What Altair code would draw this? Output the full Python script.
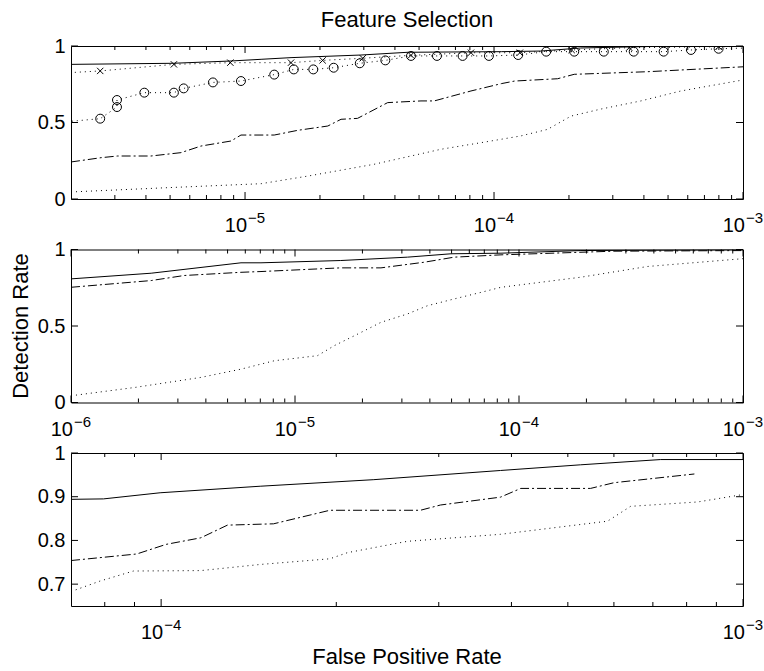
import altair as alt
import pandas as pd

FONT = "Liberation Sans"
TITLE = "Feature Selection"
X_TITLE = "False Positive Rate"
Y_TITLE = "Detection Rate"

# ---------------- panel 1 ----------------
p1_xdomain = [2e-6, 1e-3]
p1_ydomain = [0, 1]
p1_yticks = [0, 0.5, 1]
p1_major = [1e-5, 1e-4, 1e-3]
p1_major_exp = ["\u22125", "\u22124", "\u22123"]
p1_minor = [3e-6, 4e-6, 5e-6, 6e-6, 7e-6, 8e-6, 9e-6,
            2e-5, 3e-5, 4e-5, 5e-5, 6e-5, 7e-5, 8e-5, 9e-5,
            2e-4, 3e-4, 4e-4, 5e-4, 6e-4, 7e-4, 8e-4, 9e-4]

p1_solid_x = [2.0e-6, 5.13e-6, 8.78e-6, 1.16e-5, 1.53e-5, 2.92e-5, 4.51e-5, 1.07e-4, 1.54e-4, 2.23e-4, 4.27e-4, 1.0e-3]
p1_solid_y = [0.880, 0.887, 0.902, 0.913, 0.924, 0.941, 0.959, 0.963, 0.967, 0.987, 0.997, 1.0]

p1_cross_x = [1.5e-6, 2.62e-6, 5.18e-6, 8.73e-6, 1.53e-5, 2.05e-5, 2.97e-5, 4.64e-5, 8.08e-5, 1.27e-4, 2.05e-4, 3.49e-4, 7.98e-4, 1.2e-3]
p1_cross_y = [0.815, 0.837, 0.880, 0.891, 0.891, 0.906, 0.920, 0.939, 0.956, 0.956, 0.974, 0.989, 0.995, 1.0]

p1_circle_x = [1.6e-6, 2.62e-6, 3.06e-6, 3.06e-6, 3.94e-6, 5.18e-6, 5.67e-6, 7.43e-6, 9.63e-6, 1.31e-5,
               1.57e-5, 1.88e-5, 2.27e-5, 2.89e-5, 3.66e-5, 4.64e-5, 5.90e-5, 7.48e-5, 9.54e-5, 1.25e-4,
               1.62e-4, 2.10e-4, 2.76e-4, 3.64e-4, 4.80e-4, 6.18e-4, 7.98e-4, 1.2e-3]
p1_circle_y = [0.494, 0.525, 0.601, 0.647, 0.695, 0.695, 0.723, 0.762, 0.771, 0.813,
               0.847, 0.847, 0.858, 0.887, 0.906, 0.935, 0.935, 0.935, 0.935, 0.941,
               0.963, 0.963, 0.963, 0.963, 0.963, 0.974, 0.982, 0.990]

p1_dashdot_x = [2.0e-6, 2.64e-6, 3.08e-6, 4.19e-6, 5.53e-6, 6.65e-6, 8.78e-6, 9.63e-6, 1.31e-5, 1.63e-5,
                2.15e-5, 2.43e-5, 2.83e-5, 3.74e-5, 5.09e-5, 5.75e-5, 8.08e-5, 1.07e-4, 1.21e-4, 1.80e-4,
                2.10e-4, 4.14e-4, 1.0e-3]
p1_dashdot_y = [0.242, 0.270, 0.281, 0.281, 0.303, 0.346, 0.379, 0.418, 0.418, 0.449,
                0.477, 0.521, 0.527, 0.630, 0.641, 0.641, 0.706, 0.754, 0.771, 0.786,
                0.815, 0.832, 0.864]

p1_dotted_x = [2.0e-6, 4.89e-6, 1.16e-5, 1.79e-5, 3.30e-5, 6.12e-5, 8.86e-5, 1.28e-4, 1.64e-4, 2.04e-4,
               2.69e-4, 3.89e-4, 5.63e-4, 1.0e-3]
p1_dotted_y = [0.046, 0.074, 0.100, 0.150, 0.227, 0.325, 0.368, 0.412, 0.455, 0.542,
               0.588, 0.641, 0.706, 0.778]

# ---------------- panel 2 ----------------
p2_xdomain = [1e-6, 1e-3]
p2_ydomain = [0, 1]
p2_yticks = [0, 0.5, 1]
p2_major = [1e-6, 1e-5, 1e-4, 1e-3]
p2_major_exp = ["\u22126", "\u22125", "\u22124", "\u22123"]
p2_minor = [2e-6, 3e-6, 4e-6, 5e-6, 6e-6, 7e-6, 8e-6, 9e-6,
            2e-5, 3e-5, 4e-5, 5e-5, 6e-5, 7e-5, 8e-5, 9e-5,
            2e-4, 3e-4, 4e-4, 5e-4, 6e-4, 7e-4, 8e-4, 9e-4]

p2_solid_x = [1e-6, 2.28e-6, 5.74e-6, 7.05e-6, 1.60e-5, 3.18e-5, 4.97e-5, 8.31e-5, 1.89e-4, 1e-3]
p2_solid_y = [0.808, 0.845, 0.913, 0.913, 0.928, 0.950, 0.972, 0.976, 0.993, 1.0]

p2_dashdot_x = [1e-6, 2.28e-6, 3.20e-6, 5.74e-6, 7.05e-6, 1.60e-5, 2.42e-5, 3.78e-5, 5.14e-5, 8.31e-5, 2.65e-4, 1e-3]
p2_dashdot_y = [0.753, 0.797, 0.830, 0.851, 0.856, 0.880, 0.880, 0.917, 0.950, 0.965, 0.989, 0.993]

p2_dotted_x = [1e-6, 1.92e-6, 3.80e-6, 5.74e-6, 8.09e-6, 1.26e-5, 1.50e-5, 1.91e-5, 2.42e-5, 3.18e-5,
               3.91e-5, 5.14e-5, 6.77e-5, 8.31e-5, 1.89e-4, 3.75e-4, 1e-3]
p2_dotted_y = [0.044, 0.098, 0.164, 0.218, 0.273, 0.306, 0.372, 0.448, 0.524, 0.579,
               0.633, 0.677, 0.720, 0.753, 0.819, 0.889, 0.940]

# ---------------- panel 3 ----------------
p3_xdomain = [7e-5, 1e-3]
p3_ydomain = [0.65, 1]
p3_yticks = [0.7, 0.8, 0.9, 1]
p3_major = [1e-4, 1e-3]
p3_major_exp = ["\u22124", "\u22123"]
p3_minor = [8e-5, 9e-5, 2e-4, 3e-4, 4e-4, 5e-4, 6e-4, 7e-4, 8e-4, 9e-4]

p3_solid_x = [7e-5, 7.96e-5, 9.96e-5, 1.48e-4, 2.32e-4, 3.83e-4, 5.26e-4, 7.22e-4, 1e-3]
p3_solid_y = [0.894, 0.895, 0.909, 0.924, 0.939, 0.960, 0.973, 0.985, 0.985]

p3_dashdot_x = [7e-5, 9.08e-5, 1.02e-4, 1.17e-4, 1.30e-4, 1.56e-4, 1.95e-4, 2.79e-4, 3.02e-4, 3.83e-4,
                4.15e-4, 5.47e-4, 6.00e-4, 8.25e-4]
p3_dashdot_y = [0.754, 0.769, 0.791, 0.806, 0.835, 0.838, 0.869, 0.869, 0.881, 0.899,
                0.919, 0.919, 0.932, 0.952]

p3_dotted_x = [7e-5, 7.85e-5, 8.96e-5, 1.17e-4, 1.48e-4, 1.95e-4, 2.09e-4, 2.65e-4, 3.83e-4, 5.85e-4,
               6.41e-4, 8.36e-4, 1e-3]
p3_dotted_y = [0.683, 0.707, 0.730, 0.731, 0.745, 0.758, 0.772, 0.798, 0.814, 0.844,
               0.878, 0.888, 0.905]

# ---------------- styling ----------------
W, H = 672, 153
MAJOR_LEN, MINOR_LEN, YTICK_LEN = 7, 4, 7
TICK_FS, EXP_FS, TITLE_FS = 20, 15, 22
DASHDOT = [9, 3, 2, 3]
DOTTED = [1, 4]
CROSS = "M-1,-1L1,1M-1,1L1,-1"


def xenc(field, dom):
    return alt.X(f"{field}:Q", scale=alt.Scale(type="log", domain=dom, nice=False), axis=None)


def yenc(field, dom, ticks):
    return alt.Y(f"{field}:Q", scale=alt.Scale(domain=dom, nice=False, zero=False),
                 axis=alt.Axis(values=ticks, format="~g", ticks=False, tickSize=0, domain=False,
                               grid=False, labelFont=FONT, labelFontSize=TICK_FS, labelPadding=6,
                               labelColor="black", title=None))


def line(xs, ys, xdom, ydom, yt, dash=None):
    df = pd.DataFrame({"x": xs, "y": ys})
    kw = dict(color="black", strokeWidth=1, clip=True)
    if dash:
        kw["strokeDash"] = dash
    return alt.Chart(df).mark_line(**kw).encode(x=xenc("x", xdom), y=yenc("y", ydom, yt))


def points(xs, ys, xdom, ydom, yt, shape, size):
    df = pd.DataFrame({"x": xs, "y": ys})
    return alt.Chart(df).mark_point(shape=shape, filled=False, size=size, color="black",
                                    strokeWidth=1, opacity=1, clip=True).encode(
        x=xenc("x", xdom), y=yenc("y", ydom, yt))


def xticks(vals, xdom, length):
    base = alt.Chart(pd.DataFrame({"v": vals}))
    bottom = base.mark_rule(color="black", strokeWidth=1).encode(
        x=xenc("v", xdom), y=alt.value(H), y2=alt.value(H - length))
    top = base.mark_rule(color="black", strokeWidth=1).encode(
        x=xenc("v", xdom), y=alt.value(0), y2=alt.value(length))
    return [bottom, top]


def yticks(vals, ydom):
    base = alt.Chart(pd.DataFrame({"v": vals}))
    left = base.mark_rule(color="black", strokeWidth=1).encode(
        y=yenc("v", ydom, vals), x=alt.value(0), x2=alt.value(YTICK_LEN))
    right = base.mark_rule(color="black", strokeWidth=1).encode(
        y=yenc("v", ydom, vals), x=alt.value(W - YTICK_LEN), x2=alt.value(W))
    return [left, right]


def xlabels(vals, exps, xdom):
    df = pd.DataFrame({"v": vals, "b": ["10"] * len(vals), "e": exps})
    base = alt.Chart(df)
    b = base.mark_text(align="right", baseline="alphabetic", dx=2, font=FONT,
                       fontSize=TICK_FS, color="black").encode(
        x=xenc("v", xdom), y=alt.value(H + 33), text="b:N")
    e = base.mark_text(align="left", baseline="alphabetic", dx=3, font=FONT,
                       fontSize=EXP_FS, color="black").encode(
        x=xenc("v", xdom), y=alt.value(H + 24), text="e:N")
    return [b, e]


def text_at(s, x, y, size, angle=0):
    kw = dict(align="center", baseline="alphabetic", font=FONT, fontSize=size, color="black")
    if angle:
        kw["angle"] = angle
    return alt.Chart(pd.DataFrame({"t": [s]})).mark_text(**kw).encode(
        text="t:N", x=alt.value(x), y=alt.value(y))


# anchor: fixes the top-left corner of the page relative to the first plot area
anchor = alt.Chart(pd.DataFrame({"a": [0]})).mark_rule(color="white", strokeWidth=1).encode(
    x=alt.value(-69.5), x2=alt.value(-68.5), y=alt.value(-44.5), y2=alt.value(-44.5))

p1 = alt.layer(
    anchor,
    line(p1_dotted_x, p1_dotted_y, p1_xdomain, p1_ydomain, p1_yticks, DOTTED),
    line(p1_dashdot_x, p1_dashdot_y, p1_xdomain, p1_ydomain, p1_yticks, DASHDOT),
    line(p1_circle_x, p1_circle_y, p1_xdomain, p1_ydomain, p1_yticks, DOTTED),
    points(p1_circle_x, p1_circle_y, p1_xdomain, p1_ydomain, p1_yticks, "circle", 80),
    line(p1_cross_x, p1_cross_y, p1_xdomain, p1_ydomain, p1_yticks, DOTTED),
    points(p1_cross_x, p1_cross_y, p1_xdomain, p1_ydomain, p1_yticks, CROSS, 40),
    line(p1_solid_x, p1_solid_y, p1_xdomain, p1_ydomain, p1_yticks),
    *xticks(p1_minor, p1_xdomain, MINOR_LEN),
    *xticks(p1_major, p1_xdomain, MAJOR_LEN),
    *yticks(p1_yticks, p1_ydomain),
    *xlabels(p1_major, p1_major_exp, p1_xdomain),
    text_at(TITLE, W / 2, -19, TITLE_FS),
).properties(width=W, height=H)

p2 = alt.layer(
    line(p2_dotted_x, p2_dotted_y, p2_xdomain, p2_ydomain, p2_yticks, DOTTED),
    line(p2_dashdot_x, p2_dashdot_y, p2_xdomain, p2_ydomain, p2_yticks, DASHDOT),
    line(p2_solid_x, p2_solid_y, p2_xdomain, p2_ydomain, p2_yticks),
    *xticks(p2_minor, p2_xdomain, MINOR_LEN),
    *xticks(p2_major, p2_xdomain, MAJOR_LEN),
    *yticks(p2_yticks, p2_ydomain),
    *xlabels(p2_major, p2_major_exp, p2_xdomain),
    text_at(Y_TITLE, -43, H / 2, TITLE_FS, angle=270),
).properties(width=W, height=H)

p3 = alt.layer(
    line(p3_dotted_x, p3_dotted_y, p3_xdomain, p3_ydomain, p3_yticks, DOTTED),
    line(p3_dashdot_x, p3_dashdot_y, p3_xdomain, p3_ydomain, p3_yticks, DASHDOT),
    line(p3_solid_x, p3_solid_y, p3_xdomain, p3_ydomain, p3_yticks),
    *xticks(p3_minor, p3_xdomain, MINOR_LEN),
    *xticks(p3_major, p3_xdomain, MAJOR_LEN),
    *yticks(p3_yticks, p3_ydomain),
    *xlabels(p3_major, p3_major_exp, p3_xdomain),
    text_at(X_TITLE, W / 2, H + 58, TITLE_FS),
).properties(width=W, height=H)

chart = alt.vconcat(p1, p2, p3, spacing=50.5, bounds="flush", padding=0, background="white") \
    .configure_view(stroke="black", strokeWidth=1)

chart.save("out.html", embed_options={"renderer": "svg", "actions": False})
